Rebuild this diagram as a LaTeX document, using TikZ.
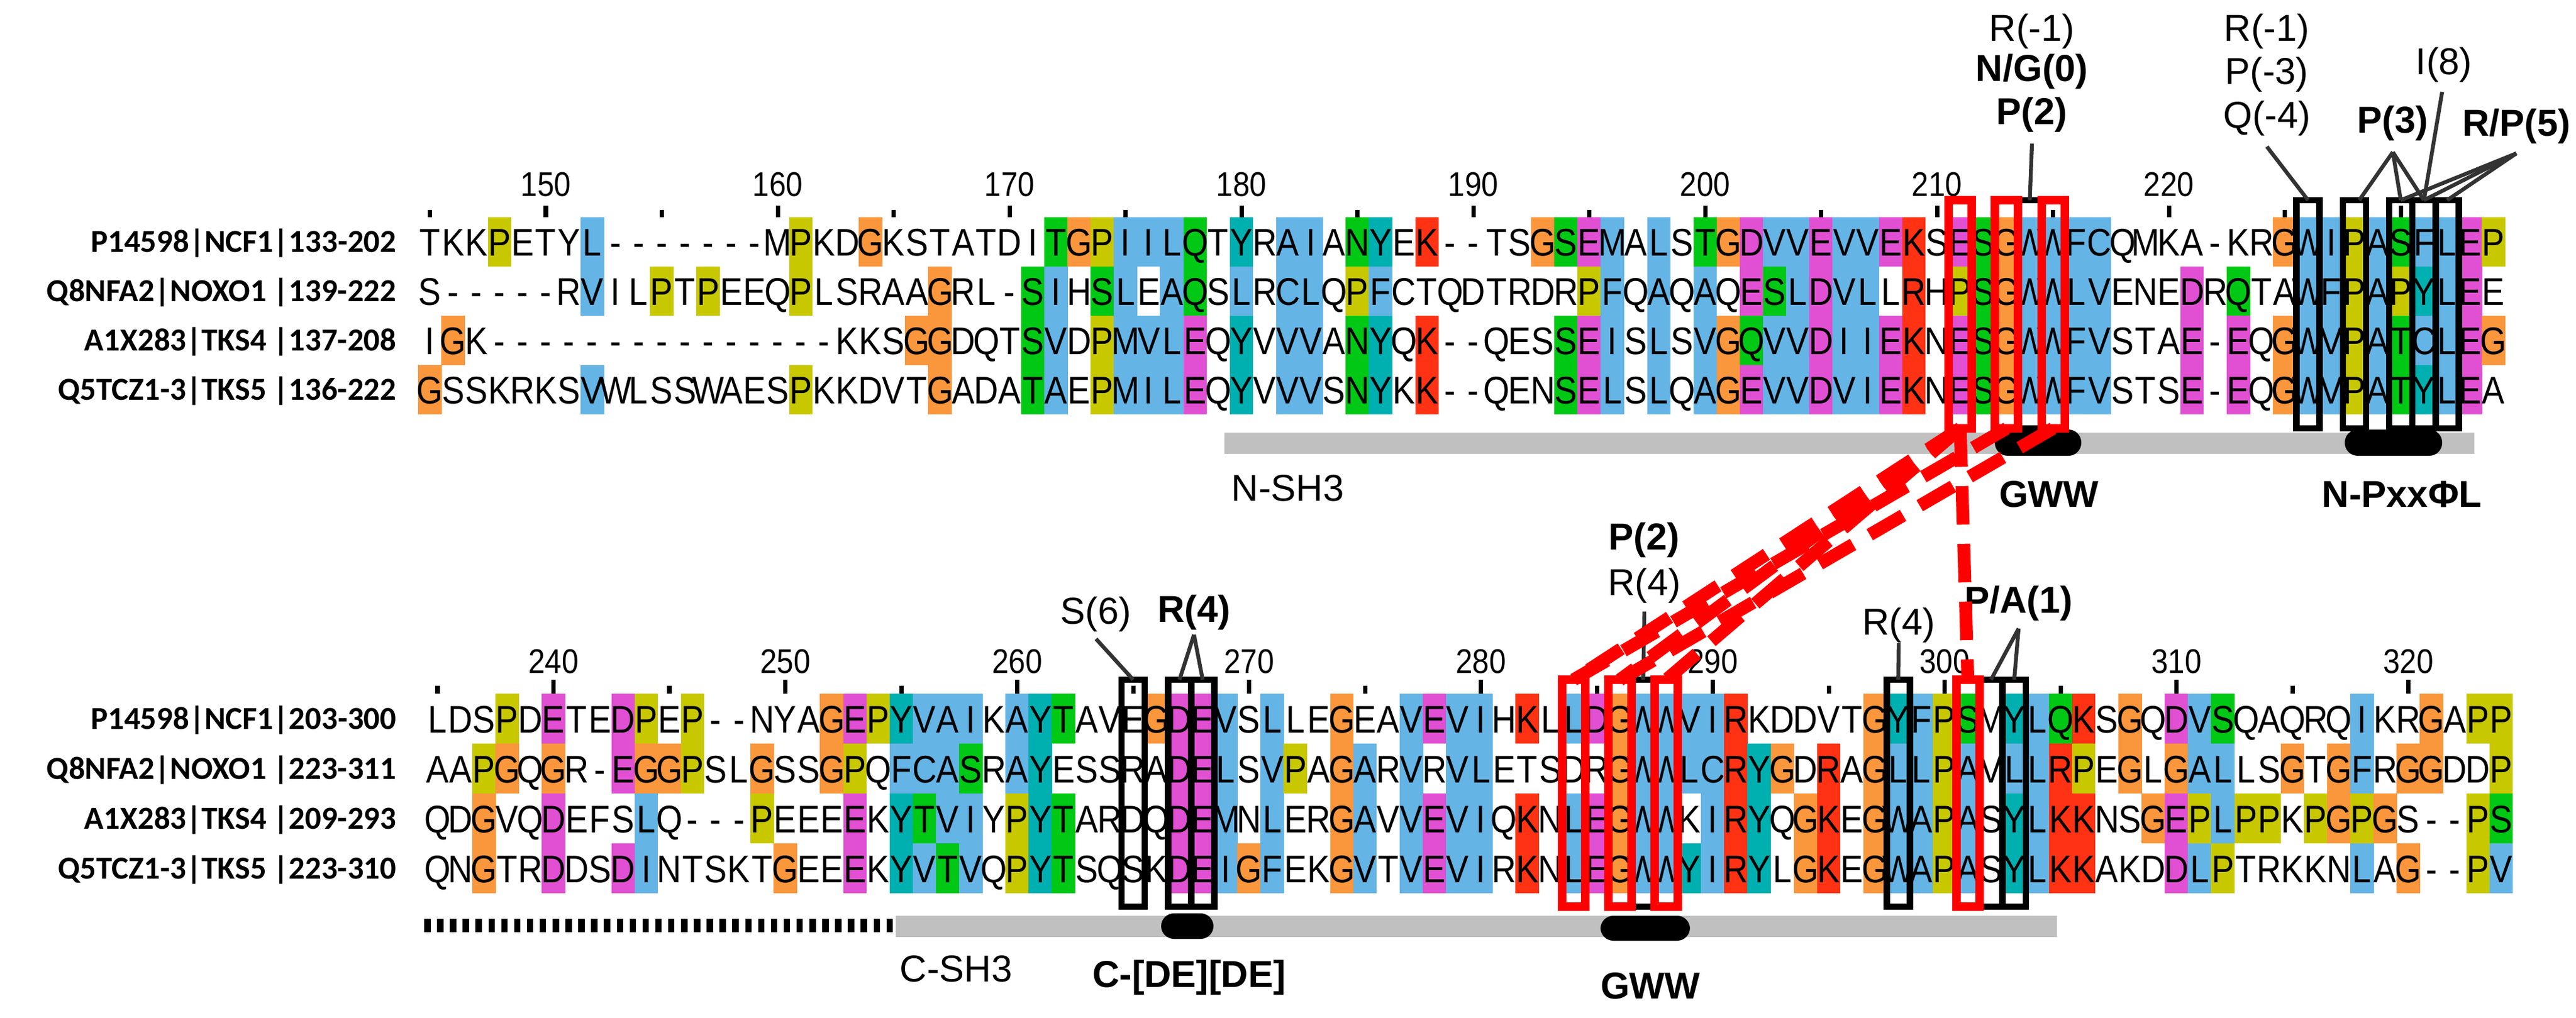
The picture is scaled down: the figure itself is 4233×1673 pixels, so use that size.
\documentclass[tikz,border=0pt]{standalone}
\usepackage{fontspec}
\setmainfont{Liberation Sans}
\newfontfamily\seqfont[FakeStretch=0.88]{Liberation Sans}
\newfontfamily\labfont{Carlito}
\definecolor{clrb}{RGB}{100,180,230}
\definecolor{clrr}{RGB}{255,50,20}
\definecolor{clrm}{RGB}{225,80,210}
\definecolor{clrg}{RGB}{0,200,20}
\definecolor{clro}{RGB}{250,150,60}
\definecolor{clry}{RGB}{200,200,0}
\definecolor{clrc}{RGB}{0,175,175}
\definecolor{cgray}{RGB}{192,192,192}
\newcount\mycol
\def\myrow#1#2#3#4{\def\rx{#1}\def\ry{#2}\def\rh{#3}\mycol=0 \myscan#4\relax\relax}
\def\myscan#1#2{\ifx#1\relax\else\mycellx{#1}{#2}\advance\mycol by 1 \expandafter\myscan\fi}
\def\mycellx#1#2{\pgfmathsetmacro\cx{\rx+38.1*\the\mycol}%
 \if#2.\else\fill[fill=clr#2] (\cx-19.3,\ry-\rh) rectangle (\cx+19.3,\ry+\rh);\fi
 \node[seq] at (\cx,\ry+23) {#1};}
\begin{document}
\begin{tikzpicture}[x=0.01cm,y=-0.01cm,
 seq/.style={inner sep=0,anchor=base,font=\seqfont\fontsize{18}{18}\selectfont},
 lab/.style={inner sep=0,anchor=base east,font=\labfont\bfseries\fontsize{15}{15}\selectfont},
 tnum/.style={inner sep=0,font=\seqfont\fontsize{16}{16}\selectfont},
 ann/.style={inner sep=0,font=\fontsize{17.5}{17.5}\selectfont},
 annb/.style={inner sep=0,font=\bfseries\fontsize{17.5}{17.5}\selectfont},
 kbox/.style={draw=black,line width=3},
 rbox/.style={draw=red,line width=4},
 aline/.style={draw=black!80,line width=1.8},
 rdash/.style={draw=red,line width=6,dash pattern=on 18 off 9},
 motif/.style={fill=black,rounded corners=6}]
\useasboundingbox (0,0) rectangle (4233,1673);
% ---------- upper block ----------
\foreach \i/\n in {5/150,15/160,25/170,35/180,45/190,55/200,65/210,75/220}{
 \node[tnum] (ut\n) at (706.5+38.1*\i,303) {\n};
 \draw[line width=2] (706.5+38.1*\i,338) -- (706.5+38.1*\i,357);}
\draw[line width=2] (706.5+38.1*85,338) -- (706.5+38.1*85,357);
\foreach \i in {0,10,...,80}{\draw[line width=2] (706.5+38.1*\i,345) -- (706.5+38.1*\i,357);}
\myrow{706.5}{397.5}{40.7}{T.K.K.PyE.T.Y.Lb-.-.-.-.-.-.-.M.PyK.D.GoK.S.T.A.T.D.I.TgGoPyIbIbLbQgT.YcR.AbIbA.NgYcE.Kr-.-.T.S.GoSgEmMbA.LbS.TgGoDmVbVbEmVbVbEmKrS.EmSgGoWbWbFbCbQ.M.K.A.-.K.R.GoWbIbPyAbSgFbLbEmPy}
\myrow{706.5}{478.5}{40.7}{S.-.-.-.-.-.R.VbI.L.PyT.PyE.E.Q.PyL.S.R.A.A.GoR.L.-.SgIbH.SgLbE.AbQgS.LbR.CbLbQ.PyFbC.T.Q.D.T.R.D.R.PyFbQ.AbQ.AbQ.EmSgLbDmVbLbL.RrH.PySgGoWbWbLbVbE.N.E.DmR.QgT.A.WbFbPyAbPyYcLbEmE.}
\myrow{706.5}{559.5}{40.7}{I.GoK.-.-.-.-.-.-.-.-.-.-.-.-.-.-.-.K.K.S.GoGoD.Q.T.SgVbD.PyMbVbLbEmQ.YcV.VbVbA.NgYcQ.Kr-.-.Q.E.S.SgEmIbS.LbS.VbGoQgVbVbDmIbIbEmKrN.EmSgGoWbWbFbVbS.T.A.Em-.EmQ.GoWbVbPyAbTgCbLbEmGo}
\myrow{706.5}{640.5}{40.7}{GoS.S.K.R.K.S.VbW.L.S.S.W.A.E.S.PyK.K.D.V.T.GoA.D.A.TgAbE.PyMbIbLbEmQ.YcV.VbVbS.NgYcK.Kr-.-.Q.E.N.SgEmLbS.LbQ.AbGoEmVbVbDmVbIbEmKrN.EmSgGoWbWbFbVbS.T.S.Em-.EmQ.GoWbVbPyAbTgYcLbEmA.}
\foreach \r/\t [count=\k] in {397.5/{P14598|NCF1|133-202},478.5/{Q8NFA2|NOXO1 |139-222},559.5/{A1X283|TKS4 |137-208},640.5/{Q5TCZ1-3|TKS5 |136-222}}
 \node[lab] (ul\k) at (652,\r+17) {\t};
% bars
\fill[cgray] (2012,711) rectangle (4066,746);
\fill[motif] (3278,706) rectangle (3420,749);
\fill[motif] (3853,706) rectangle (4013,749);
\node[ann,anchor=west] (nsh3) at (2023,802) {N-SH3};
\node[annb] (ugww) at (3367,812) {GWW};
\node[annb] (npxx) at (3947,812) {N-PxxΦL};
% boxes
\foreach \i in {69,81,83,85,86,87}{\draw[kbox] (706.5+38.1*\i-19,329) rectangle (706.5+38.1*\i+19,704);}
\foreach \i in {66,68,70}{\draw[rbox] (706.5+38.1*\i-19,329) rectangle (706.5+38.1*\i+19,704);}
% annotations
\node[ann] (a1) at (3339,52) {R(-1)};
\node[annb] (a2) at (3339,118) {N/G(0)};
\node[annb] (a3) at (3339,189) {P(2)};
\node[ann] (b1) at (3725,52) {R(-1)};
\node[ann] (b2) at (3725,123) {P(-3)};
\node[ann] (b3) at (3725,195) {Q(-4)};
\node[ann] (c1) at (4016,107) {I(8)};
\node[annb] (d1) at (3932,203) {P(3)};
\node[annb] (e1) at (4135,208) {R/P(5)};
\coordinate (t69) at (706.5+38.1*69,329);
\coordinate (t81) at (706.5+38.1*81,329);
\coordinate (t83) at (706.5+38.1*83+8,329);
\coordinate (t85) at (706.5+38.1*85,329);
\coordinate (t86) at (706.5+38.1*86,329);
\coordinate (t87) at (706.5+38.1*87,329);
\draw[aline] (3339,236) -- (t69);
\draw[aline] (3725,241) -- (t81);
\draw[aline] (4013,151) -- (t86);
\draw[aline] (3932,250) -- (t83);
\draw[aline] (3932,250) -- (t85);
\draw[aline] (3932,250) -- (t86);
\draw[aline] (4135,252) -- (t85);
\draw[aline] (4135,252) -- (t86);
\draw[aline] (4135,252) -- (t87);
% ---------- lower block ----------
\foreach \i/\n in {5/240,15/250,25/260,35/270,45/280,55/290,65/300,75/310,85/320}{
 \node[tnum] (lt\n) at (719+38.1*\i,1087) {\n};
 \draw[line width=2] (719+38.1*\i,1117) -- (719+38.1*\i,1140);}
\foreach \i in {0,10,...,80}{\draw[line width=2] (719+38.1*\i,1127) -- (719+38.1*\i,1140);}
\myrow{719}{1181}{41.2}{L.D.S.PyD.EmT.E.DmPyE.Py-.-.N.Y.A.GoEmPyYcVbAbIbK.AbYcTgA.V.E.GoDmEmVbS.LbL.E.GoE.A.VbEmVbIbH.KrL.LbDmGoWbWbVbIbRrK.D.D.V.T.GoYcFbPySgM.YcLbQgKrS.GoQ.DmVbSgQ.A.Q.R.Q.IbK.R.GoA.PyPy}
\myrow{719}{1263}{41.2}{A.A.PyGoQ.GoR.-.EmGoGoPyS.L.GoS.S.GoPyQ.FbCbAbSgR.AbYcE.S.S.R.A.DmEmLbS.VbPyA.GoAbR.VbR.VbLbE.T.S.D.R.GoWbWbLbCbRrYcGoD.RrA.GoLbLbPyAbV.LbLbRrPyE.GoL.GoAbLbL.S.GoT.GoFbR.GoGoD.D.Py}
\myrow{719}{1345}{41.2}{Q.D.GoV.Q.DmE.F.S.LbQ.-.-.-.PyE.E.E.EmK.YcTgVbIbY.PyYcTgA.R.D.Q.DmEmMbN.LbE.R.GoAbV.VbEmVbIbQ.KrN.LbEmGoWbWbK.IbRrYcQ.GoKrE.GoWbAbPyAbS.YcLbKrKrN.S.GoEmPyLbPyPyK.PyGoPyGoS.-.-.PySg}
\myrow{719}{1427}{41.2}{Q.N.GoT.R.DmD.S.DmIbN.T.S.K.T.GoE.E.EmK.YcVbTgVbQ.PyYcTgS.Q.S.K.DmEmIbGoFbE.K.GoVbT.VbEmVbIbR.KrN.LbEmGoWbWbYcIbRrYcL.GoKrE.GoWbAbPyAbS.YcLbKrKrA.K.D.DmLbPyT.R.K.K.N.LbA.Go-.-.PyVb}
\foreach \r/\t [count=\k] in {1181/{P14598|NCF1|203-300},1263/{Q8NFA2|NOXO1 |223-311},1345/{A1X283|TKS4 |209-293},1427/{Q5TCZ1-3|TKS5 |223-310}}
 \node[lab] (ll\k) at (652,\r+17) {\t};
\draw[line width=6,dash pattern=on 3 off 3] (697,1521) -- (1472,1521);
\fill[cgray] (1472,1505) rectangle (3380,1540);
\fill[motif] (1908,1501) rectangle (1994,1543);
\fill[motif] (2630,1505) rectangle (2777,1546);
\node[ann,anchor=west] (csh3) at (1478,1592) {C-SH3};
\node[annb] (cde) at (1954,1607) {C-[DE][DE]};
\node[annb] (lgww) at (2712,1620) {GWW};
\foreach \i in {30,32,33,52,63,67,68}{\draw[kbox] (719+38.1*\i-19,1117) rectangle (719+38.1*\i+19,1490);}
\foreach \i in {49,51,53,66}{\draw[rbox] (719+38.1*\i-19,1117) rectangle (719+38.1*\i+19,1490);}
\node[ann] (s6) at (1801,1010) {S(6)};
\node[annb] (r4a) at (1962,1007) {R(4)};
\node[annb] (p2) at (2702,888) {P(2)};
\node[ann] (r4b) at (2702,963) {R(4)};
\node[ann] (r4c) at (3120,1028) {R(4)};
\node[annb] (pa1) at (3317,992) {P/A(1)};
\draw[aline] (1801,1050) -- (719+38.1*30,1117);
\draw[aline] (1962,1043) -- (719+38.1*32,1117);
\draw[aline] (1962,1043) -- (719+38.1*33,1117);
\draw[aline] (2702,1005) -- (719+38.1*52,1117);
\draw[aline] (3120,1057) -- (719+38.1*63,1117);
\draw[aline] (3317,1033) -- (719+38.1*67,1117);
\draw[aline] (3317,1033) -- (719+38.1*68,1117);
% red dashed connections
\foreach \i in {66,68,70}{\coordinate (ub\i) at (706.5+38.1*\i,704);}
\foreach \i in {49,51,53,66}{\coordinate (lb\i) at (719+38.1*\i,1117);}
\draw[rdash] (ub66) -- (lb49);
\draw[rdash] (ub66) -- (lb51);
\draw[rdash] (ub66) -- (lb53);
\draw[rdash] (ub68) -- (lb49);
\draw[rdash] (ub70) -- (lb51);
\draw[rdash] (ub66) -- (lb66);
\end{tikzpicture}
\end{document}
